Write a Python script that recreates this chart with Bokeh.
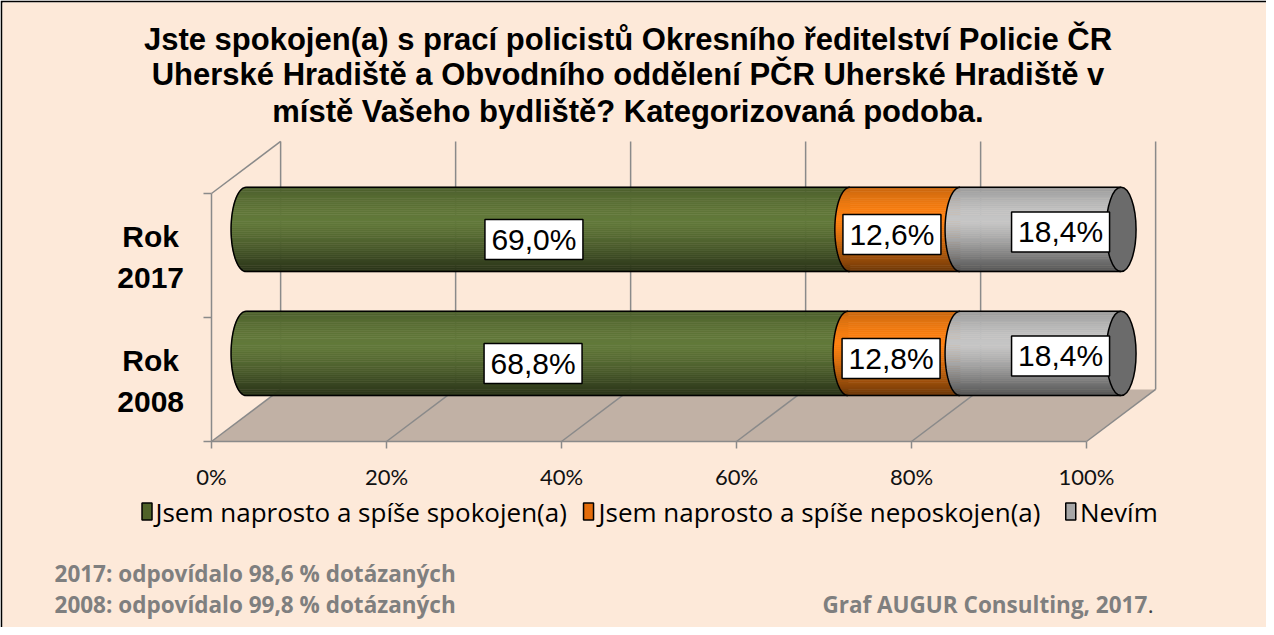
import numpy as np
from bokeh.plotting import figure
from bokeh.models import Range1d, ColumnDataSource
from bokeh.core.properties import value
from bokeh.embed import file_html
from bokeh.resources import INLINE

# ---------------- data ----------------
title_lines = [
    "Jste spokojen(a) s prací policistů Okresního ředitelství Policie ČR",
    "Uherské Hradiště a Obvodního oddělení PČR Uherské Hradiště v",
    "místě Vašeho bydliště? Kategorizovaná podoba.",
]
categories = ["Rok\n2008", "Rok\n2017"]          # bottom -> top
series_names = ["Jsem naprosto a spíše spokojen(a)",
                "Jsem naprosto a spíše neposkojen(a)",
                "Nevím"]
spokojen = [68.8, 69.0]
nespokojen = [12.8, 12.6]
nevim = [18.4, 18.4]
x_ticks = [0, 20, 40, 60, 80, 100]
x_tick_labels = ["0%", "20%", "40%", "60%", "80%", "100%"]
notes = ["2017: odpovídalo 98,6 % dotázaných",
         "2008: odpovídalo 99,8 % dotázaných"]
credit = "Graf AUGUR Consulting, 2017"

# ---------------- style ----------------
PX = 8.75            # px per percent
PY = 124.0           # px per category unit
DX, DY = 7.9, 0.42   # 3D depth offset (data units)
BX, BY = DX * 0.5, DY * 0.5
R = 0.34             # cylinder half height
A = 15 / PX          # cap half width
BG = "#FDE9D9"
GRID = "#8A8A8A"
FLOOR = "#C1B1A5"
peak_colors = ["#62793A", "#FF8212", "#C6C6C6"]
legend_colors = ["#4F6228", "#E46C0A", "#A6A6A6"]
cap_color = "#6B6B6B"
lab_dx = [-14, -13, 20]
lab_dy = [-0.08, -0.04, -0.02]

W, H = 1266, 627
frame_w, frame_h = W - 2, H - 2
x0 = -209 / PX
y1 = 439 / PY

p = figure(width=W, height=H, output_backend="svg", toolbar_location=None,
           x_range=Range1d(x0, x0 + frame_w / PX), y_range=Range1d(y1 - frame_h / PY, y1),
           min_border_left=2, min_border_top=2, min_border_right=0, min_border_bottom=0)
p.axis.visible = False
p.grid.visible = False
p.outline_line_color = None
p.background_fill_color = BG
p.border_fill_color = "black"

def shade(hexcol, f):
    h = hexcol.lstrip("#")
    r, g, b = (int(h[i:i + 2], 16) for i in (0, 2, 4))
    return "#%02x%02x%02x" % tuple(int(max(0, min(255, round(c * f)))) for c in (r, g, b))

def profile(t):
    if t < 0.4:
        return 0.78 + 0.22 * np.sin(t / 0.4 * np.pi / 2)
    return 1.0 - 0.58 * ((t - 0.4) / 0.6) ** 1.3

# ---- floor ----
p.patch([0, 100, 100 + DX, DX], [0, 0, DY, DY], fill_color=FLOOR, line_color=None)
fx = [[t, t + DX] for t in x_ticks]
fy = [[0, DY] for t in x_ticks]
p.multi_line(fx, fy, line_color=GRID, line_width=1.5)
p.line([0, 100], [0, 0], line_color=GRID, line_width=1.5)
# back wall
p.multi_line([[t + DX, t + DX] for t in x_ticks], [[DY, 2 + DY] for t in x_ticks],
             line_color=GRID, line_width=1.5)
# left wall
p.line([0, 0], [0, 2], line_color=GRID, line_width=1.5)
p.line([0, DX], [2, 2 + DY], line_color=GRID, line_width=1.5)
# ticks
p.multi_line([[-8 / PX, 0] for k in range(3)], [[k, k] for k in range(3)],
             line_color=GRID, line_width=1.5)
p.multi_line([[t, t] for t in x_ticks], [[0, -7 / PY] for t in x_ticks],
             line_color=GRID, line_width=1.5)
p.text(x_ticks, [-0.285] * len(x_ticks), text=x_tick_labels, text_align="center",
       text_baseline="middle", text_font=value("Lato"), text_font_size="22px", text_color="#111111")

# category labels
p.text([-6.95] * 2, [0.5 + i - 0.01 for i in range(len(categories))], text=categories,
       text_align="center", text_baseline="middle", text_font=value("Liberation Sans"),
       text_font_style="bold", text_font_size="30px", text_line_height=1.25, text_color="black")

# ---- cylinders ----
series = [spokojen, nespokojen, nevim]
N = 44
for c in range(len(categories)):
    yc = c + 0.5 + BY
    vals = [s[c] for s in series]
    starts = np.concatenate([[0], np.cumsum(vals)[:-1]])
    ends = np.cumsum(vals)
    xs_all, ys_all, cols = [], [], []
    for si, (s, e) in enumerate(zip(starts, ends)):
        for k in range(N):
            t0, t1 = k / N, (k + 1) / N
            ya = yc + R - 2 * R * t0
            yb = yc + R - 2 * R * t1
            def xl(y):
                u = (y - yc) / R
                return s + BX - A * np.sqrt(max(0.0, 1 - u * u))
            xr = e + BX
            xs_all.append([xl(ya), xr, xr, xl(yb)])
            ys_all.append([ya, ya, yb, yb])
            cols.append(shade(peak_colors[si], profile((t0 + t1) / 2)))
    src = ColumnDataSource(dict(xs=xs_all, ys=ys_all, c=cols))
    p.patches("xs", "ys", source=src, fill_color="c", line_color="c", line_width=0.6)
    # end cap
    p.ellipse([ends[-1] + BX], [yc], width=2 * A, height=2 * R, fill_color=cap_color,
              line_color="black", line_width=1.5)
    # outlines
    th = np.linspace(np.pi / 2, 3 * np.pi / 2, 40)
    p.multi_line([list(s + BX + A * np.cos(th)) for s in starts],
                 [list(yc + R * np.sin(th)) for s in starts], line_color="black", line_width=1.5)
    p.multi_line([[BX, ends[-1] + BX], [BX, ends[-1] + BX]], [[yc + R, yc + R], [yc - R, yc - R]],
                 line_color="black", line_width=1.5)
    # data labels
    lx = [(s + e) / 2 + BX + lab_dx[i] / PX for i, (s, e) in enumerate(zip(starts, ends))]
    ly = [yc + lab_dy[i] for i in range(len(vals))]
    lt = [("%.1f%%" % v).replace(".", ",") for v in vals]
    p.rect(lx, ly, width=98, height=40, width_units="screen", height_units="screen",
           fill_color="white", line_color="black", line_width=1.5)
    p.text(lx, ly, text=lt, text_align="center", text_baseline="middle",
           text_font=value("Liberation Sans"), text_font_size="30px", text_color="black")

# ---- title ----
p.text([47.6] * 3, [3.245, 2.963, 2.665], text=title_lines, text_align="center",
       text_baseline="alphabetic", text_font=value("Liberation Sans"), text_font_style="bold",
       text_font_size="31px", text_color="black")

# ---- legend ----
leg_sq_x = [-7.37, 43.09, 98.2]
leg_tx_x = [-6.4, 44.23, 99.25]
leg_y = -0.565
p.rect(leg_sq_x, [leg_y] * 3, width=10, height=17, width_units="screen", height_units="screen",
       fill_color=legend_colors, line_color="black", line_width=1.5)
p.text(leg_tx_x, [leg_y] * 3, text=series_names, text_align="left", text_baseline="middle",
       text_font=value("Open Sans"), text_font_size="26px", text_color="black")

# ---- footnotes ----
p.text([-17.94] * 2, [-1.065, -1.315], text=notes, text_align="left", text_baseline="middle",
       text_font=value("Open Sans"), text_font_style="bold", text_font_size="22.5px", text_color="#7F7F7F")
p.text([106.95], [-1.315], text=[credit], text_align="right", text_baseline="middle",
       text_font=value("Open Sans"), text_font_style="bold", text_font_size="22.5px", text_color="#7F7F7F")
p.text([107.0], [-1.315], text=["."], text_align="left", text_baseline="middle",
       text_font=value("Open Sans"), text_font_size="22.5px", text_color="#404040")

open("out.html", "w").write(file_html(p, INLINE))
